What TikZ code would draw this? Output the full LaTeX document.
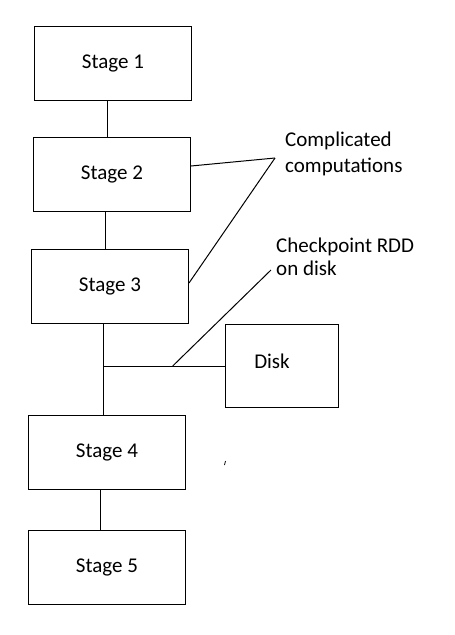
\documentclass[tikz,border=0pt]{standalone}
\usepackage{fontspec}
\setmainfont{Carlito}
\tikzset{
  stagebox/.style={draw, line width=1pt, inner sep=0pt, minimum width=157pt, minimum height=74pt, font=\fontsize{21}{25}\selectfont},
  note/.style={inner sep=0pt, align=left, anchor=north west},
  wire/.style={line width=1pt}
}
\begin{document}
\begin{tikzpicture}[x=1pt, y=-1pt]
  \useasboundingbox (0,0) rectangle (455,635);
  \node[stagebox] (s1) at (113,63.5) {Stage 1};
  \node[stagebox] (s2) at (112,174) {Stage 2};
  \node[stagebox] (s3) at (110,286) {Stage 3};
  \node[stagebox] (s4) at (107,452) {Stage 4};
  \node[stagebox] (s5) at (107,567) {Stage 5};
  \node[stagebox, minimum width=113pt, minimum height=83pt] (disk) at (282,366) {};
  \node[font=\fontsize{21}{25}\selectfont] (disklbl) at (272,361) {Disk};
  \node[note, font=\fontsize{21}{26}\selectfont] (comp) at (285,132) {Complicated\\computations};
  \node[note, font=\fontsize{21}{23}\selectfont] (ckpt) at (276,238) {Checkpoint RDD\\on disk};
  \coordinate (cc) at (275,158);
  \coordinate (j) at (103.3,366);
  \coordinate (cp) at (172.7,366);
  \coordinate (cpend) at (271,270);
  \draw[wire] ([xshift=-6pt]s1.south) -- ([xshift=-5pt]s2.north);
  \draw[wire] ([xshift=-7pt]s2.south) -- ([xshift=-5pt]s3.north);
  \draw[wire] (s3.south -| j) -- (s4.north -| j);
  \draw[wire] (j) -- (disk.west |- j);
  \draw[wire] ([xshift=-6.7pt]s4.south) -- ([xshift=-6.7pt]s5.north);
  \draw[wire] ([yshift=8pt]s2.east) -- (cc);
  \draw[wire] ([yshift=3pt]s3.east) -- (cc);
  \draw[wire] (cp) -- (cpend);
  \coordinate (tick) at (225,463);
  \draw[line width=0.8pt] ([shift={(-0.5pt,-2pt)}]tick) -- ([shift={(0.5pt,2pt)}]tick);
\end{tikzpicture}
\end{document}
